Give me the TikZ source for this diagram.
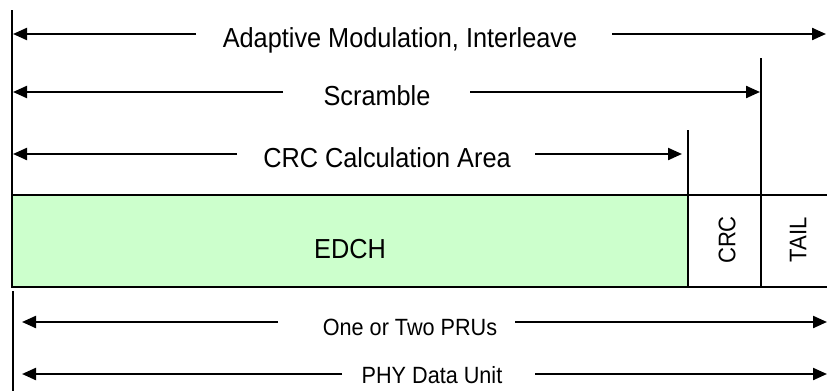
\documentclass[tikz,border=0pt]{standalone}
\usepackage{fontspec}
\setmainfont[FakeStretch=0.92]{Liberation Sans}
\usetikzlibrary{arrows.meta}
\definecolor{edchgreen}{HTML}{CCFFCC}
\tikzset{
  dimarrow/.style={line width=2.2pt,-{Triangle[length=14pt,width=12pt]}},
  bigtext/.style={inner sep=0pt,anchor=base,font=\fontsize{27.5}{32}\selectfont},
  smalltext/.style={inner sep=0pt,anchor=base,font=\fontsize{23.5}{28}\selectfont},
  celltext/.style={inner sep=0pt,font=\fontsize{24}{28}\selectfont},
  edchtext/.style={inner sep=0pt,font=\fontsize{27.5}{32}\selectfont},
  vline/.style={line width=2pt},
  cell/.style={draw,line width=1.8pt}
}
\begin{document}
\begin{tikzpicture}[x=1pt,y=-1pt]
\useasboundingbox (0,0) rectangle (827,391);
% cells
\fill[edchgreen] (12,195) rectangle (688,287);
\draw[cell] (828,195) -- (12,195) -- (12,287) -- (828,287);
\draw[vline] (688,130) -- (688,287);
\draw[vline] (761,58) -- (761,287);
\draw[vline] (12,10) -- (12,195);
\draw[vline] (13,291) -- (13,391);
\node[edchtext] (edch) at (350,249) {EDCH};
\node[celltext,rotate=90] (crc) at (727,240) {CRC};
\node[celltext,rotate=90] (tail) at (798,240) {TAIL};
% row 1
\node[bigtext] (t1) at (400,47) {Adaptive Modulation, Interleave};
\coordinate (a1l) at (196,34); \coordinate (a1lt) at (13,34);
\coordinate (a1r) at (612,34); \coordinate (a1rt) at (826,34);
\draw[dimarrow] (a1l) -- (a1lt);
\draw[dimarrow] (a1r) -- (a1rt);
% row 2
\node[bigtext] (t2) at (377,105) {Scramble};
\coordinate (a2l) at (283,92); \coordinate (a2lt) at (13,92);
\coordinate (a2r) at (470,92); \coordinate (a2rt) at (760,92);
\draw[dimarrow] (a2l) -- (a2lt);
\draw[dimarrow] (a2r) -- (a2rt);
% row 3
\node[bigtext] (t3) at (387,167) {CRC Calculation Area};
\coordinate (a3l) at (237,154); \coordinate (a3lt) at (13,154);
\coordinate (a3r) at (535,154); \coordinate (a3rt) at (682,154);
\draw[dimarrow] (a3l) -- (a3lt);
\draw[dimarrow] (a3r) -- (a3rt);
% row 4
\node[smalltext] (t4) at (410,335) {One or Two PRUs};
\coordinate (a4l) at (278,322); \coordinate (a4lt) at (22,322);
\coordinate (a4r) at (515,322); \coordinate (a4rt) at (827,322);
\draw[dimarrow] (a4l) -- (a4lt);
\draw[dimarrow] (a4r) -- (a4rt);
% row 5
\node[smalltext] (t5) at (432,383) {PHY Data Unit};
\coordinate (a5l) at (342,374); \coordinate (a5lt) at (22,374);
\coordinate (a5r) at (535,374); \coordinate (a5rt) at (827,374);
\draw[dimarrow] (a5l) -- (a5lt);
\draw[dimarrow] (a5r) -- (a5rt);
\end{tikzpicture}
\end{document}
